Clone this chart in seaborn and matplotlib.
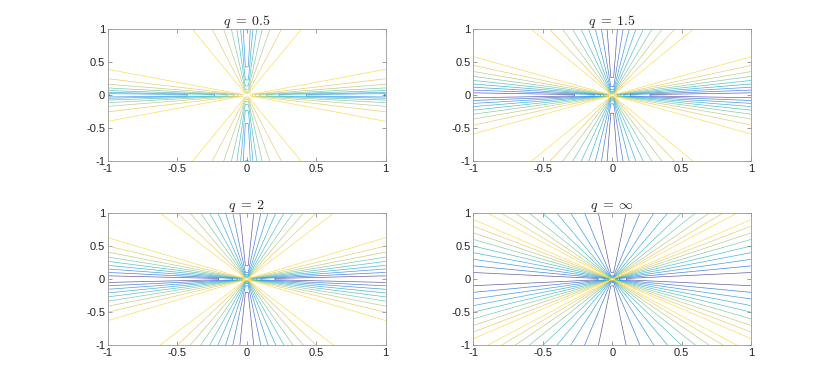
import numpy as np
import matplotlib
matplotlib.use("Agg")
import matplotlib.pyplot as plt
import seaborn as sns

# ---- data / settings ----
q_values = [0.5, 1.5, 2.0, np.inf]
titles = [r"$q\;=\;0.5$", r"$q\;=\;1.5$", r"$q\;=\;2$", r"$q\;=\;\infty$"]
tick_values = [-1, -0.5, 0, 0.5, 1]
tick_labels = ["-1", "-0.5", "0", "0.5", "1"]
contour_levels = [1.1, 1.2, 1.3, 1.4, 1.5, 1.6, 1.7, 1.8, 1.9]
color_limits = (1.1, 2.0)
grid_points = 100
parula_anchors = ["#352a87", "#0363e1", "#1485d4", "#06a7c6", "#38b99e",
                  "#92bf73", "#d9ba56", "#fcce2e", "#f9fb0e"]

sns.set_theme(style="white")
plt.rcParams["font.family"] = ["Liberation Sans", "DejaVu Sans"]
plt.rcParams["mathtext.fontset"] = "cm"

cmap = sns.blend_palette(parula_anchors, as_cmap=True)

g = np.linspace(-1, 1, grid_points)
X, Y = np.meshgrid(g, g)


def norm_ratio(q):
    """(||x||_1 / ||x||_q)^(q/(q-1)), which lies in [1, 2] in two dimensions."""
    ax_, ay_ = np.abs(X), np.abs(Y)
    n1 = ax_ + ay_
    if np.isinf(q):
        return n1 / np.maximum(ax_, ay_)
    nq = (ax_ ** q + ay_ ** q) ** (1.0 / q)
    return (n1 / nq) ** (q / (q - 1.0))


fig = plt.figure(figsize=(8.3, 3.88), dpi=100)
positions = [(0.1300, 0.5838, 0.3347, 0.3412), (0.5703, 0.5838, 0.3347, 0.3412),
             (0.1300, 0.1100, 0.3347, 0.3412), (0.5703, 0.1100, 0.3347, 0.3412)]

for q, title, pos in zip(q_values, titles, positions):
    ax = fig.add_axes(pos)
    Z = norm_ratio(q)
    ax.contour(X, Y, Z, levels=contour_levels, cmap=cmap,
               vmin=color_limits[0], vmax=color_limits[1],
               linewidths=0.5, alpha=0.75)
    ax.set_xlim(-1, 1)
    ax.set_ylim(-1, 1)
    ax.set_xticks(tick_values)
    ax.set_xticklabels(tick_labels)
    ax.set_yticks(tick_values)
    ax.set_yticklabels(tick_labels)
    ax.tick_params(direction="in", length=3, width=0.5, color="#777777",
                   labelsize=8, top=True, right=True, bottom=True, left=True,
                   pad=2, labelcolor="#222222")
    for s in ax.spines.values():
        s.set_linewidth(0.6)
        s.set_color("#999999")
    ax.set_title(title, fontsize=10, pad=3)
    ax.grid(False)

fig.savefig("out.png", dpi=100)
